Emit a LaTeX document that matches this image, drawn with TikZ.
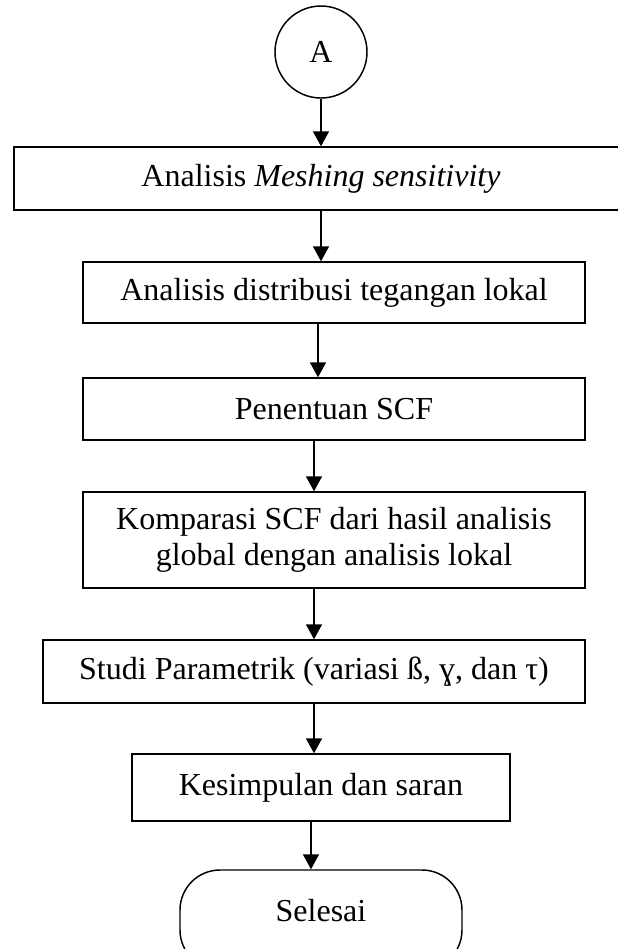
\documentclass[tikz,border=0pt]{standalone}
\usepackage{fontspec}
\setmainfont{Liberation Serif}
\usetikzlibrary{arrows.meta}

\begin{document}
\begin{tikzpicture}[x=0.375pt, y=-0.375pt,
    font=\fontsize{12}{13.5}\selectfont,
    line width=0.55pt,
    box/.style={draw, rectangle, inner sep=0pt, align=center},
    arr/.style={-{Triangle[width=6pt,length=5.6pt]}}]

    \useasboundingbox (0,0) rectangle (618,949);

    % connector
    \node[draw, circle, minimum size=34.5pt, inner sep=0pt] (A) at (321,52) {A};

    % steps
    \node[box, minimum width=230.25pt, minimum height=23.625pt] (mesh) at (321,178.5) {Analisis \textit{Meshing sensitivity}};
    \node[box, minimum width=188.25pt, minimum height=22.875pt] (distr) at (334,292.5) {Analisis distribusi tegangan lokal};
    \node[box, minimum width=188.25pt, minimum height=23.25pt] (scf) at (334,409) {Penentuan SCF};
    \node[box, minimum width=188.25pt, minimum height=36pt] (komp) at (334,540) {Komparasi SCF dari hasil analisis\\global dengan analisis lokal};
    \node[box, minimum width=203.25pt, minimum height=23.625pt] (param) at (314,671.5) {Studi Parametrik (variasi ß, ɣ, dan τ)};
    \node[box, minimum width=141.75pt, minimum height=25.125pt] (simpul) at (321,787.5) {Kesimpulan dan saran};

    % end
    \node[draw, rounded corners=15pt, minimum width=105.75pt, minimum height=37.5pt, text depth=7pt] (selesai) at (321,920) {Selesai};

    % arrows
    \draw[arr] (A) -- (mesh);
    \draw[arr] (mesh.south) -- (mesh.south |- distr.north);
    \draw[arr] ([xshift=-6pt]distr.south) -- ([xshift=-6pt]scf.north);
    \draw[arr] ([xshift=-7.5pt]scf.south) -- ([xshift=-7.5pt]komp.north);
    \draw[arr] (komp.south -| param.north) -- (param.north);
    \draw[arr] (param.south) -- (param.south |- simpul.north);
    \draw[arr] ([xshift=-3.75pt]simpul.south) -- ([xshift=-3.75pt]selesai.north);

\end{tikzpicture}
\end{document}
